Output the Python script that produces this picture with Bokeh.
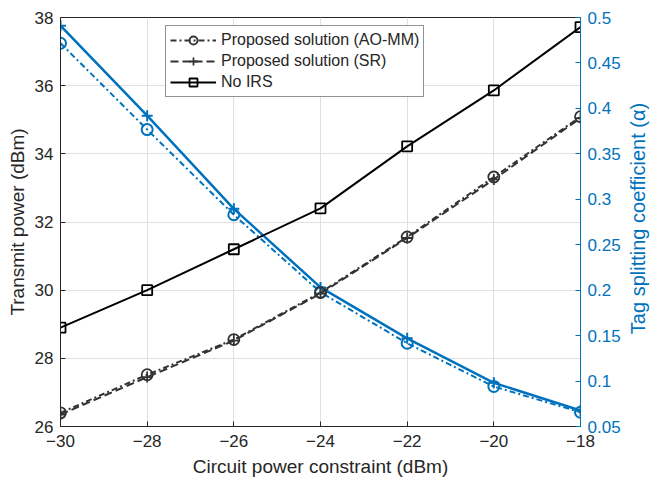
import math
from bokeh.plotting import figure
from bokeh.models import Range1d, LinearAxis, FixedTicker, Legend, LegendItem, Label
from bokeh.embed import file_html
from bokeh.resources import INLINE

# ---- data ----
circuit_power = [-30, -28, -26, -24, -22, -20, -18]
tx_ao_mm = [26.4, 27.52, 28.55, 29.93, 31.56, 33.32, 35.09]
tx_sr = [26.35, 27.45, 28.52, 29.9, 31.53, 33.25, 35.05]
tx_no_irs = [28.9, 30.0, 31.2, 32.4, 34.22, 35.86, 37.72]
alpha_ao_mm = [0.4717, 0.3767, 0.283, 0.1977, 0.1416, 0.094, 0.0657]
alpha_sr = [0.491, 0.392, 0.2895, 0.203, 0.147, 0.098, 0.0676]

x_ticks = [-30, -28, -26, -24, -22, -20, -18]
y_ticks = [26, 28, 30, 32, 34, 36, 38]
alpha_ticks = [0.05, 0.1, 0.15, 0.2, 0.25, 0.3, 0.35, 0.4, 0.45, 0.5]
alpha_tick_labels = ["0.05", "0.1", "0.15", "0.2", "0.25", "0.3", "0.35", "0.4", "0.45", "0.5"]

BLUE = "#0072BD"
GRAY = "#333333"
FONT = "Liberation Sans"

p = figure(width=653, height=483, output_backend="svg", toolbar_location=None,
           x_range=Range1d(-30, -18), y_range=Range1d(26, 38),
           min_border_left=60, min_border_right=73, min_border_top=17, min_border_bottom=57)
p.extra_y_ranges = {"alpha": Range1d(0.05, 0.5)}
p.background_fill_color = "white"
p.outline_line_color = "#262626"
p.outline_line_width = 1

# grid
p.xgrid.ticker = FixedTicker(ticks=x_ticks)
p.ygrid.ticker = FixedTicker(ticks=y_ticks)
for g in (p.xgrid, p.ygrid):
    g.grid_line_color = "#e0e0e0"
    g.grid_line_width = 1

# axes
xa = p.xaxis[0]
xa.ticker = FixedTicker(ticks=x_ticks)
xa.axis_label = "Circuit power constraint (dBm)"
ya = p.yaxis[0]
ya.ticker = FixedTicker(ticks=y_ticks)
ya.axis_label = "Transmit power (dBm)"
for ax in (xa, ya):
    ax.axis_line_color = "#262626"
    ax.major_tick_line_color = "#262626"
    ax.major_tick_in = 5
    ax.major_tick_out = 0
    ax.minor_tick_line_color = None
    ax.major_label_text_font = FONT
    ax.major_label_text_font_size = "17px"
    ax.major_label_text_color = "#262626"
    ax.axis_label_text_font = FONT
    ax.axis_label_text_font_size = "19px"
    ax.axis_label_text_font_style = "normal"
    ax.axis_label_text_color = "#262626"
xa.major_label_standoff = 8
xa.axis_label_standoff = 6
ya.major_label_standoff = 7
ya.axis_label_standoff = 4

ra = LinearAxis(y_range_name="alpha", ticker=FixedTicker(ticks=alpha_ticks))
ra.major_label_overrides = {t: s for t, s in zip(alpha_ticks, alpha_tick_labels)}
ra.axis_line_color = BLUE
ra.major_tick_line_color = BLUE
ra.major_tick_in = 5
ra.major_tick_out = 0
ra.minor_tick_line_color = None
ra.major_label_text_font = FONT
ra.major_label_text_font_size = "17px"
ra.major_label_text_color = BLUE
ra.major_label_standoff = 7
p.add_layout(ra, "right")

# right axis title in the side panel, reading bottom-to-top like the reference
right_title = Label(x=14, y=208, x_units="screen", y_units="screen",
                    text="Tag splitting coefficient (α)", angle=math.pi / 2,
                    text_align="center", text_baseline="middle",
                    text_font=FONT, text_font_size="20px", text_color=BLUE)
p.add_layout(right_title, "right")

# blue alpha series
p.line(circuit_power, alpha_ao_mm, y_range_name="alpha", line_color=BLUE, line_width=2,
       line_dash="6 3 2 3")
p.scatter(circuit_power, alpha_ao_mm, y_range_name="alpha", marker="circle", size=11,
          fill_color=None, line_color=BLUE, line_width=2)
p.line(circuit_power, alpha_sr, y_range_name="alpha", line_color=BLUE, line_width=2.5)
p.scatter(circuit_power, alpha_sr, y_range_name="alpha", marker="cross", size=11,
          line_color=BLUE, line_width=2)

# black transmit power series
l1 = p.line(circuit_power, tx_ao_mm, line_color=GRAY, line_width=2, line_dash="6 3 2 3")
m1 = p.scatter(circuit_power, tx_ao_mm, marker="circle", size=11, fill_color=None,
               line_color=GRAY, line_width=1.8)
l2 = p.line(circuit_power, tx_sr, line_color=GRAY, line_width=2, line_dash="8 4")
m2 = p.scatter(circuit_power, tx_sr, marker="cross", size=11, line_color=GRAY, line_width=1.8)
l3 = p.line(circuit_power, tx_no_irs, line_color="black", line_width=2)
m3 = p.scatter(circuit_power, tx_no_irs, marker="square", size=10, fill_color=None,
               line_color="black", line_width=1.8)

legend = Legend(items=[
    LegendItem(label="Proposed solution (AO-MM)", renderers=[l1, m1]),
    LegendItem(label="Proposed solution (SR)", renderers=[l2, m2]),
    LegendItem(label="No IRS", renderers=[l3, m3]),
], location=(105, 329))
legend.label_text_font = FONT
legend.label_text_font_size = "16px"
legend.label_text_color = "#262626"
legend.glyph_width = 46
legend.glyph_height = 20
legend.label_height = 20
legend.spacing = 1
legend.padding = 4
legend.margin = 0
legend.label_standoff = 5
legend.border_line_color = "#262626"
legend.border_line_width = 1
legend.background_fill_color = "white"
legend.background_fill_alpha = 1
p.add_layout(legend, "center")

open("out.html", "w").write(file_html(p, INLINE))
